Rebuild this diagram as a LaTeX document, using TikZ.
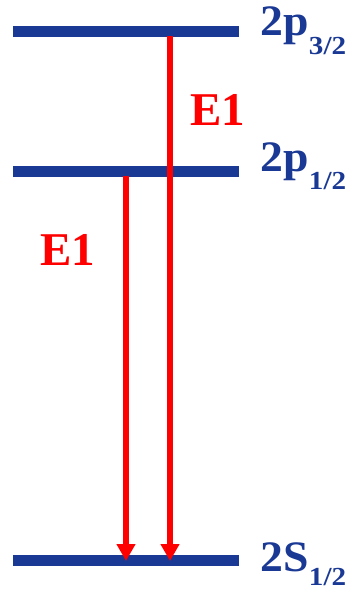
\documentclass[tikz,border=0pt]{standalone}
\usepackage{fontspec}
\usepackage{graphicx}
\setmainfont{Liberation Serif}
\usetikzlibrary{arrows.meta}
\definecolor{lvlblue}{RGB}{26,57,148}
\definecolor{trred}{RGB}{255,0,0}
\tikzset{
  level/.style={draw=lvlblue, line width=11.5pt},
  lvllabel/.style={text=lvlblue, anchor=base west, inner sep=0pt, font=\fontsize{43.5}{43.5}\selectfont\bfseries},
  trans/.style={draw=trred, line width=5.5pt, -{Triangle[width=18pt,length=17pt]}},
  translabel/.style={text=trred, anchor=base, inner sep=0pt, font=\fontsize{47}{47}\selectfont\bfseries},
}
\newcommand{\mainlbl}[1]{\scalebox{1.05}[1]{#1}}
\newcommand{\subsc}[2]{\raisebox{-#1pt}{\scalebox{1.12}[1]{\fontsize{26}{26}\selectfont\bfseries #2}}}
\begin{document}
\begin{tikzpicture}[x=1pt,y=-1pt]
\useasboundingbox (0,0) rectangle (354,592);
% level lines
\coordinate (t1) at (13,31.5); \coordinate (t2) at (239,31.5);
\coordinate (m1) at (13,171.5); \coordinate (m2) at (239,171.5);
\coordinate (b1) at (13,560.5); \coordinate (b2) at (239,560.5);
\draw[level] (t1) -- (t2);
\draw[level] (m1) -- (m2);
\draw[level] (b1) -- (b2);
% labels
\node[lvllabel] (lt) at (260.5,35.7) {\mainlbl{2p}\subsc{19}{3/2}};
\node[lvllabel] (lm) at (260.5,171.7) {\mainlbl{2p}\subsc{18}{1/2}};
\node[lvllabel] (lb) at (260.5,571.7) {\mainlbl{2S}\subsc{13.5}{1/2}};
% transitions
\coordinate (a1s) at (170,36); \coordinate (a1e) at (170,561);
\coordinate (a2s) at (126,176); \coordinate (a2e) at (126,561);
\draw[trans] (a1s) -- (a1e);
\draw[trans] (a2s) -- (a2e);
\node[translabel] (e1a) at (218,125) {E1};
\node[translabel] (e1b) at (68,265) {E1};
\end{tikzpicture}
\end{document}
